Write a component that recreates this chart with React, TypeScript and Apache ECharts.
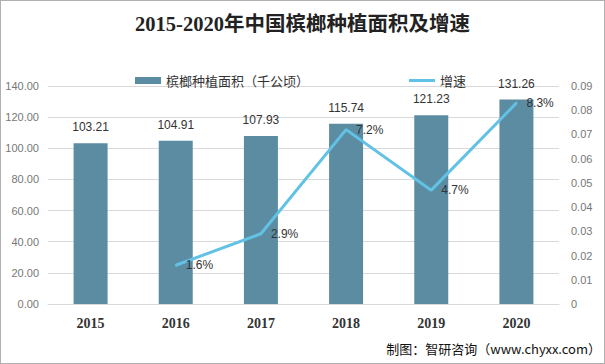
import React, { useEffect, useRef } from "react";
import * as echarts from "echarts";

const years = ["2015", "2016", "2017", "2018", "2019", "2020"];
const area = [103.21, 104.91, 107.93, 115.74, 121.23, 131.26];
const growth: (number | null)[] = [null, 0.016, 0.029, 0.072, 0.047, 0.083];
const leftTicks = { min: 0, max: 140, interval: 20 };
const rightTicks = { min: 0, max: 0.09, interval: 0.01 };

const CJK = "'Noto Sans CJK SC', 'Microsoft YaHei', sans-serif";

export default function App() {
  const ref = useRef<HTMLDivElement>(null);
  useEffect(() => {
    document.body.style.margin = "0";
    const chart = echarts.init(ref.current!, null, { renderer: "svg" });
    chart.setOption({
      animation: false,
      backgroundColor: "#ffffff",
      title: {
        text: "2015-2020年中国槟榔种植面积及增速",
        left: "center",
        top: 8,
        textStyle: {
          fontFamily: "'Liberation Serif', 'Noto Sans CJK SC', serif",
          fontWeight: "bold",
          fontSize: 20.5,
          color: "#222",
        },
      },
      legend: {
        top: 68,
        left: 129,
        itemGap: 100,
        itemWidth: 26,
        itemHeight: 7,
        textStyle: { fontFamily: CJK, fontSize: 13, color: "#333" },
        data: [
          { name: "槟榔种植面积（千公顷）", icon: "rect" },
          { name: "增速", icon: "path://M0 0 H26 V3 H0 Z" },
        ],
      },
      grid: { left: 47, right: 45, top: 85, bottom: 59 },
      xAxis: {
        type: "category",
        data: years,
        axisTick: { show: false },
        axisLine: { lineStyle: { color: "#d9d9d9" } },
        axisLabel: {
          fontFamily: "'Liberation Serif', serif",
          fontWeight: "bold",
          fontSize: 14,
          color: "#333",
          margin: 12,
        },
      },
      yAxis: [
        {
          type: "value",
          ...leftTicks,
          axisLine: { show: false },
          axisTick: { show: false },
          splitLine: { lineStyle: { color: "#d9d9d9" } },
          axisLabel: {
            formatter: (v: number) => v.toFixed(2),
            fontFamily: "'Liberation Sans', sans-serif",
            fontSize: 11,
            color: "#777",
            margin: 9,
          },
        },
        {
          type: "value",
          ...rightTicks,
          axisLine: { show: false },
          axisTick: { show: false },
          splitLine: { show: false },
          axisLabel: {
            formatter: (v: number) => (v === 0 ? "0" : v.toFixed(2)),
            fontFamily: "'Liberation Sans', sans-serif",
            fontSize: 11,
            color: "#777",
            margin: 12,
          },
        },
      ],
      series: [
        {
          name: "槟榔种植面积（千公顷）",
          type: "bar",
          data: area,
          barWidth: 34,
          itemStyle: { color: "#5b8ca2" },
          label: {
            show: true,
            position: "top",
            distance: 10,
            formatter: (p: any) => p.value.toFixed(2),
            fontFamily: "'Liberation Sans', sans-serif",
            fontSize: 12,
            color: "#333",
          },
        },
        {
          name: "增速",
          type: "line",
          yAxisIndex: 1,
          data: growth,
          symbol: "circle",
          symbolSize: 2,
          showSymbol: true,
          connectNulls: false,
          lineStyle: { color: "#62c2e6", width: 3 },
          itemStyle: { color: "#62c2e6" },
          label: {
            show: true,
            position: "right",
            distance: 9,
            formatter: (p: any) => (p.value * 100).toFixed(1) + "%",
            fontFamily: "'Liberation Sans', sans-serif",
            fontSize: 12,
            color: "#333",
          },
        },
      ],
      graphic: [
        {
          type: "text",
          right: 3,
          top: 341,
          style: {
            text: "制图：智研咨询（www.chyxx.com）",
            font: "13px 'Noto Sans CJK SC', sans-serif",
            fill: "#111",
          },
        },
      ],
    });
    return () => chart.dispose();
  }, []);
  return (
    <div
      ref={ref}
      style={{
        width: 605,
        height: 364,
        boxSizing: "border-box",
        border: "1px solid #b0b0b0",
      }}
    />
  );
}
